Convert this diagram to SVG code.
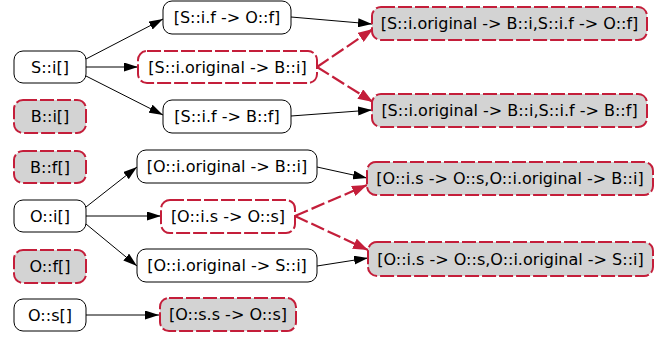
<svg xmlns="http://www.w3.org/2000/svg" width="670" height="339" viewBox="0 0 670 339">
<style>
.n rect{fill:#fff;stroke:#000;stroke-width:1}
.h rect{fill:#fff;stroke:#c41e3a;stroke-width:2;stroke-dasharray:14,3}
.g rect{fill:#d3d3d3;stroke:#c41e3a;stroke-width:2;stroke-dasharray:14,3}
text{font-family:"DejaVu Sans",sans-serif;font-size:16px;text-anchor:middle;fill:#000}
.e{stroke:#000;stroke-width:1;fill:none}
.r{stroke:#c41e3a;stroke-width:2.2;fill:none;stroke-dasharray:14,4}
</style>
<defs>
<marker id="ab" markerWidth="14" markerHeight="9" refX="14" refY="4.5" orient="auto" markerUnits="userSpaceOnUse"><path d="M0,0 L14,4.5 L0,9 Z" fill="#000"/></marker>
<marker id="ar" markerWidth="15" markerHeight="11" refX="15" refY="5.5" orient="auto" markerUnits="userSpaceOnUse"><path d="M0,0 L15,5.5 L0,11 Z" fill="#c41e3a"/></marker>
</defs>
<g id="edges">
<line class="e" x1="86" y1="59" x2="163" y2="19" marker-end="url(#ab)"/>
<line class="e" x1="86" y1="67" x2="138" y2="67" marker-end="url(#ab)"/>
<line class="e" x1="86" y1="76" x2="163" y2="115" marker-end="url(#ab)"/>
<line class="e" x1="291" y1="17" x2="372" y2="24" marker-end="url(#ab)"/>
<line class="r" x1="317" y1="67" x2="373" y2="29" marker-end="url(#ar)"/>
<line class="r" x1="317" y1="67" x2="373" y2="102" marker-end="url(#ar)"/>
<line class="e" x1="291" y1="116" x2="372" y2="110" marker-end="url(#ab)"/>
<line class="e" x1="86" y1="207" x2="137" y2="167" marker-end="url(#ab)"/>
<line class="e" x1="86" y1="216" x2="161" y2="216" marker-end="url(#ab)"/>
<line class="e" x1="86" y1="224" x2="137" y2="266" marker-end="url(#ab)"/>
<line class="e" x1="317" y1="167" x2="367" y2="178" marker-end="url(#ab)"/>
<line class="r" x1="295" y1="216" x2="367" y2="185" marker-end="url(#ar)"/>
<line class="r" x1="295" y1="216" x2="368" y2="250" marker-end="url(#ar)"/>
<line class="e" x1="317" y1="266" x2="368" y2="258" marker-end="url(#ab)"/>
<line class="e" x1="86" y1="315" x2="159" y2="315" marker-end="url(#ab)"/>
</g>
<g id="Si" class="n"><rect x="14" y="51" width="72" height="32" rx="9"/><text x="50" y="73">S::i[]</text></g>
<g id="Bi" class="g"><rect x="14" y="100" width="72" height="33" rx="9"/><text x="50" y="122">B::i[]</text></g>
<g id="Bf" class="g"><rect x="14" y="151" width="72" height="32" rx="9"/><text x="50" y="173">B::f[]</text></g>
<g id="Oi" class="n"><rect x="14" y="200" width="72" height="32" rx="9"/><text x="50" y="222">O::i[]</text></g>
<g id="Of" class="g"><rect x="14" y="250" width="72" height="33" rx="9"/><text x="50" y="272">O::f[]</text></g>
<g id="Os" class="n"><rect x="14" y="299" width="72" height="32" rx="9"/><text x="50" y="321">O::s[]</text></g>
<g id="SifOf" class="n"><rect x="163" y="1" width="128" height="33" rx="9"/><text x="227" y="23">[S::i.f -&gt; O::f]</text></g>
<g id="SioBi" class="h"><rect x="138" y="51" width="179" height="32" rx="9"/><text x="227.5" y="73">[S::i.original -&gt; B::i]</text></g>
<g id="SifBf" class="n"><rect x="163" y="100" width="128" height="33" rx="9"/><text x="227" y="122">[S::i.f -&gt; B::f]</text></g>
<g id="OioBi" class="n"><rect x="137" y="150" width="180" height="33" rx="9"/><text x="227" y="172">[O::i.original -&gt; B::i]</text></g>
<g id="OisOs" class="h"><rect x="161" y="200" width="134" height="33" rx="9"/><text x="228" y="222">[O::i.s -&gt; O::s]</text></g>
<g id="OioSi" class="n"><rect x="137" y="249" width="180" height="33" rx="9"/><text x="227" y="271">[O::i.original -&gt; S::i]</text></g>
<g id="OssOs" class="g"><rect x="160" y="298" width="136" height="33" rx="9"/><text x="228" y="320">[O::s.s -&gt; O::s]</text></g>
<g id="R1" class="g"><rect x="372" y="7" width="275" height="33" rx="9"/><text x="509.5" y="29">[S::i.original -&gt; B::i,S::i.f -&gt; O::f]</text></g>
<g id="R2" class="g"><rect x="372" y="94" width="275" height="33" rx="9"/><text x="509.5" y="116">[S::i.original -&gt; B::i,S::i.f -&gt; B::f]</text></g>
<g id="R3" class="g"><rect x="367" y="162" width="286" height="33" rx="9"/><text x="510" y="184">[O::i.s -&gt; O::s,O::i.original -&gt; B::i]</text></g>
<g id="R4" class="g"><rect x="368" y="242" width="285" height="34" rx="9"/><text x="510.5" y="265">[O::i.s -&gt; O::s,O::i.original -&gt; S::i]</text></g>
</svg>
